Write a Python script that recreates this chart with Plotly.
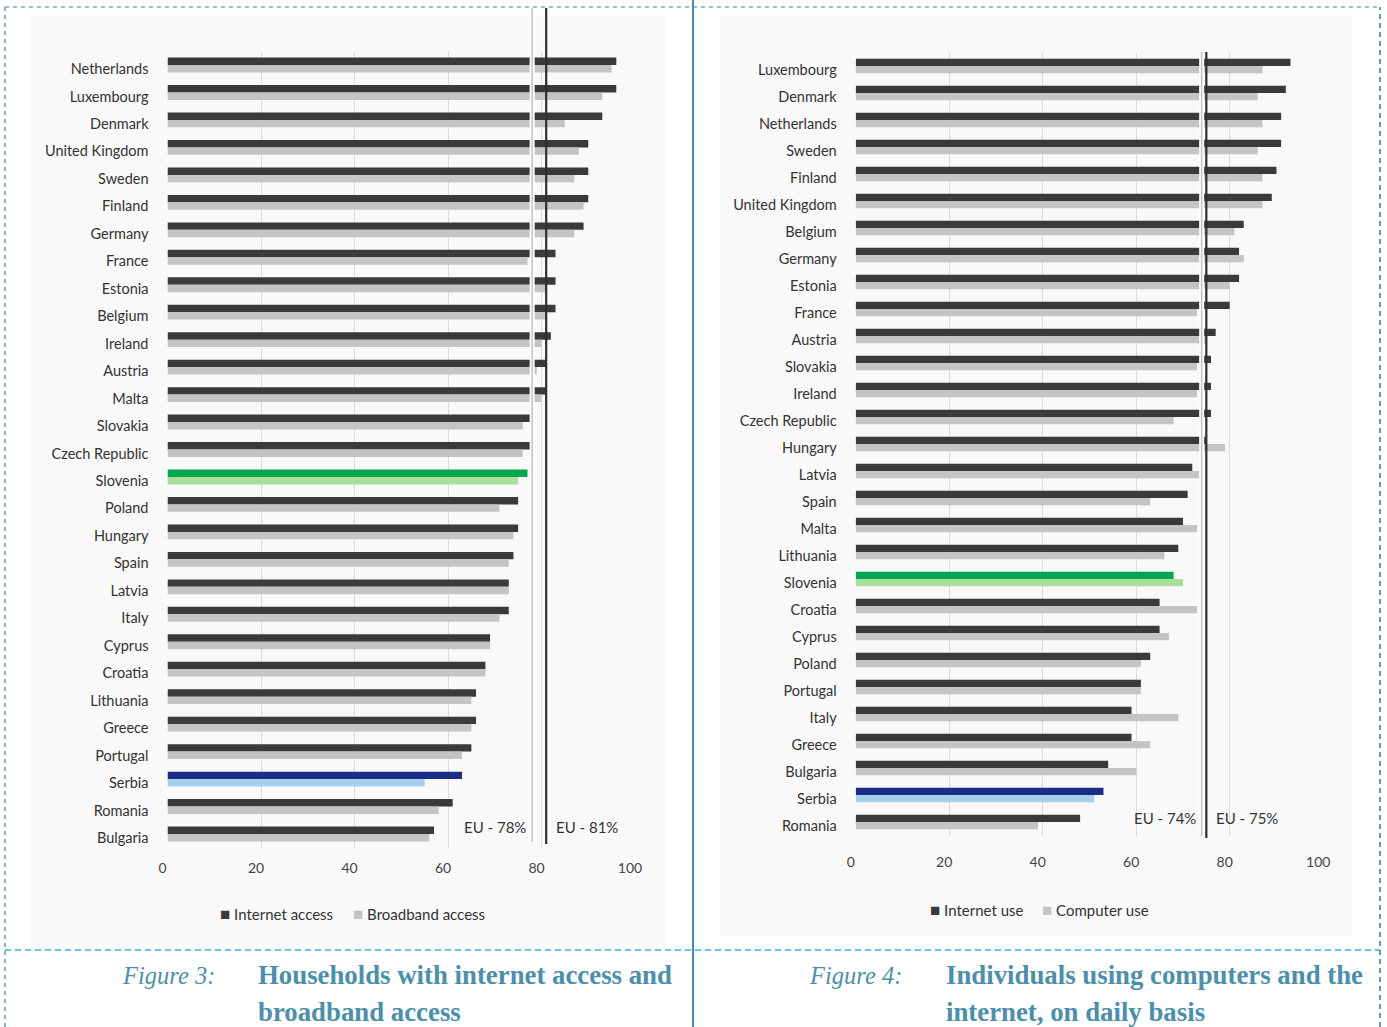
import plotly.graph_objects as go

W, H = 1387, 1027

# Figure 3: households with internet / broadband access (%)
countries_hh = ["Netherlands", "Luxembourg", "Denmark", "United Kingdom", "Sweden", "Finland",
                "Germany", "France", "Estonia", "Belgium", "Ireland", "Austria", "Malta",
                "Slovakia", "Czech Republic", "Slovenia", "Poland", "Hungary", "Spain", "Latvia",
                "Italy", "Cyprus", "Croatia", "Lithuania", "Greece", "Portugal", "Serbia",
                "Romania", "Bulgaria"]
internet_access = [96, 96, 93, 90, 90, 90, 89, 83, 83, 83, 82, 81, 81, 78, 78, 77, 75, 75, 74,
                   73, 73, 69, 68, 66, 66, 65, 63, 61, 57]
broadband_access = [95, 93, 85, 88, 87, 89, 87, 77, 81, 81, 80, 79, 80, 76, 76, 75, 71, 74, 73,
                    73, 71, 69, 68, 65, 65, 63, 55, 58, 56]
eu_hh_broadband = 78
eu_hh_internet = 81

# Figure 4: individuals using computers / internet daily (%)
countries_ind = ["Luxembourg", "Denmark", "Netherlands", "Sweden", "Finland", "United Kingdom",
                 "Belgium", "Germany", "Estonia", "France", "Austria", "Slovakia", "Ireland",
                 "Czech Republic", "Hungary", "Latvia", "Spain", "Malta", "Lithuania", "Slovenia",
                 "Croatia", "Cyprus", "Poland", "Portugal", "Italy", "Greece", "Bulgaria",
                 "Serbia", "Romania"]
internet_use = [93, 92, 91, 91, 90, 89, 83, 82, 82, 80, 77, 76, 76, 76, 75, 72, 71, 70, 69, 68,
                65, 65, 63, 61, 59, 59, 54, 53, 48]
computer_use = [87, 86, 87, 86, 87, 87, 81, 83, 80, 73, 75, 73, 73, 68, 79, 74, 63, 73, 66, 70,
                73, 67, 61, 61, 69, 63, 60, 51, 39]
eu_ind_computer = 74
eu_ind_internet = 75

x_ticks = [0, 20, 40, 60, 80, 100]

DARK, LIGHT = "#3a3a3a", "#c5c4c4"
HIGHLIGHT = {"Slovenia": ("#00a651", "#a6e09a"), "Serbia": ("#1b2d86", "#a7d0ef")}
CAPTION = "#4a8fab"
LABEL_FONT = "Lato, 'Open Sans', sans-serif"


def colours(cats, idx):
    base = DARK if idx == 0 else LIGHT
    return [HIGHLIGHT[c][idx] if c in HIGHLIGHT else base for c in cats]


def px_x(p):
    return p / W


def px_y(p):
    return 1 - p / H


fig = go.Figure()

fig.add_trace(go.Bar(y=countries_hh, x=internet_access, orientation="h", name="Internet access",
                     marker=dict(color=colours(countries_hh, 0), line_width=0),
                     xaxis="x", yaxis="y"))
fig.add_trace(go.Bar(y=countries_hh, x=broadband_access, orientation="h", name="Broadband access",
                     marker=dict(color=colours(countries_hh, 1), line_width=0),
                     xaxis="x", yaxis="y"))
fig.add_trace(go.Bar(y=countries_ind, x=internet_use, orientation="h", name="Internet use",
                     marker=dict(color=colours(countries_ind, 0), line_width=0),
                     xaxis="x2", yaxis="y2"))
fig.add_trace(go.Bar(y=countries_ind, x=computer_use, orientation="h", name="Computer use",
                     marker=dict(color=colours(countries_ind, 1), line_width=0),
                     xaxis="x2", yaxis="y2"))

xaxis_common = dict(range=[0, 100], tickvals=x_ticks, showgrid=True, gridcolor="#e2dada",
                    gridwidth=1, zeroline=False, showline=False, ticks="", automargin=False,
                    tickfont=dict(family=LABEL_FONT, size=14, color="#444444"),
                    ticklabelshift=-5, fixedrange=True)
yaxis_common = dict(type="category", autorange="reversed", showgrid=False, zeroline=False,
                    showline=False, ticks="", ticklabelstandoff=18, automargin=False,
                    tickfont=dict(family=LABEL_FONT, size=14.5, color="#333333"),
                    ticklabelshift=-4, fixedrange=True)

fig.update_layout(
    width=W, height=H, autosize=False,
    margin=dict(l=0, r=0, t=0, b=0, pad=0, autoexpand=False),
    paper_bgcolor="white", plot_bgcolor="rgba(0,0,0,0)",
    barmode="group", bargap=0.46, bargroupgap=0.0,
    showlegend=False,
    xaxis=dict(domain=[px_x(167.5), px_x(635)], anchor="y", ticklabelstandoff=10, **xaxis_common),
    yaxis=dict(domain=[px_y(847.7), px_y(51.3)], anchor="x", **yaxis_common),
    xaxis2=dict(domain=[px_x(855.7), px_x(1323.2)], anchor="y2", ticklabelstandoff=16, **xaxis_common),
    yaxis2=dict(domain=[px_y(835.5), px_y(52.5)], anchor="x2", **yaxis_common),
)

shapes = []
# chart panels
shapes.append(dict(type="rect", xref="paper", yref="paper", x0=px_x(30), x1=px_x(665),
                   y0=px_y(945), y1=px_y(15), fillcolor="#f9f9f9", line_width=0, layer="below"))
shapes.append(dict(type="rect", xref="paper", yref="paper", x0=px_x(720), x1=px_x(1352),
                   y0=px_y(935), y1=px_y(15), fillcolor="#f9f9f9", line_width=0, layer="below"))


# EU average reference lines
def eu_lines(xref, light_val, dark_val, top, bottom):
    out = []
    out.append(dict(type="line", xref=xref, yref="paper", x0=light_val, x1=light_val,
                    y0=px_y(bottom), y1=px_y(top), line=dict(color="white", width=5), layer="above"))
    out.append(dict(type="line", xref=xref, yref="paper", x0=light_val, x1=light_val,
                    y0=px_y(bottom), y1=px_y(top), line=dict(color="#c9c5c5", width=1.6), layer="above"))
    out.append(dict(type="line", xref=xref, yref="paper", x0=dark_val, x1=dark_val,
                    y0=px_y(bottom + 2), y1=px_y(top), line=dict(color="#2f2f2f", width=2.2), layer="above"))
    return out


shapes += eu_lines("x", eu_hh_broadband, eu_hh_internet, 8, 842)
shapes += eu_lines("x2", eu_ind_computer, eu_ind_internet, 52, 836)

# page frame
dash_dark, dash_light = "#2f7fa6", "#35b3e3"
shapes.append(dict(type="line", xref="paper", yref="paper", x0=px_x(5), x1=px_x(1380),
                   y0=px_y(7), y1=px_y(7), line=dict(color=dash_dark, width=1.2, dash="4px,4px")))
shapes.append(dict(type="line", xref="paper", yref="paper", x0=px_x(5), x1=px_x(1380),
                   y0=px_y(950), y1=px_y(950), line=dict(color=dash_light, width=1.5, dash="6px,4px")))
shapes.append(dict(type="line", xref="paper", yref="paper", x0=px_x(5), x1=px_x(5),
                   y0=px_y(1027), y1=px_y(7), line=dict(color=dash_dark, width=1.2, dash="4px,4px")))
shapes.append(dict(type="line", xref="paper", yref="paper", x0=px_x(1380), x1=px_x(1380),
                   y0=px_y(1027), y1=px_y(7), line=dict(color=dash_dark, width=1.5, dash="5px,4px")))
shapes.append(dict(type="line", xref="paper", yref="paper", x0=px_x(693), x1=px_x(693),
                   y0=0, y1=1, line=dict(color="#3f8eae", width=2)))
fig.update_layout(shapes=shapes)

annotations = []
eu_font = dict(family=LABEL_FONT, size=15, color="#333333")
annotations.append(dict(xref="x", yref="paper", x=eu_hh_broadband, y=px_y(827), xshift=-4,
                        text=f"EU - {eu_hh_broadband}%", showarrow=False, xanchor="right",
                        yanchor="middle", font=eu_font))
annotations.append(dict(xref="x", yref="paper", x=eu_hh_internet, y=px_y(827), xshift=8,
                        text=f"EU - {eu_hh_internet}%", showarrow=False, xanchor="left",
                        yanchor="middle", font=eu_font))
annotations.append(dict(xref="x2", yref="paper", x=eu_ind_computer, y=px_y(818), xshift=-4,
                        text=f"EU - {eu_ind_computer}%", showarrow=False, xanchor="right",
                        yanchor="middle", font=eu_font))
annotations.append(dict(xref="x2", yref="paper", x=eu_ind_internet, y=px_y(818), xshift=8,
                        text=f"EU - {eu_ind_internet}%", showarrow=False, xanchor="left",
                        yanchor="middle", font=eu_font))

# legends: square key followed by the series name
legend_font = dict(family=LABEL_FONT, size=15, color="#333333")
legend_items = [
    (218, 913, DARK, "Internet access"),
    (351, 913, LIGHT, "Broadband access"),
    (928, 909, DARK, "Internet use"),
    (1040, 909, LIGHT, "Computer use"),
]
for lx, ly, col, name in legend_items:
    annotations.append(dict(xref="paper", yref="paper", x=px_x(lx), y=px_y(ly),
                            text=f"<span style='color:{col};font-size:17px'>■</span> {name}",
                            showarrow=False, xanchor="left", yanchor="middle", font=legend_font))

serif = "'Liberation Serif', 'DejaVu Serif', serif"
captions = [
    (120, "Figure 3:", 256, ["Households with internet access and", "broadband access"]),
    (807, "Figure 4:", 944, ["Individuals using computers and the", "internet, on daily basis"]),
]
for fx, flabel, tx, lines in captions:
    annotations.append(dict(xref="paper", yref="paper", x=px_x(fx), y=px_y(975), text=f"<i>{flabel}</i>",
                            showarrow=False, xanchor="left", yanchor="middle",
                            font=dict(family=serif, size=24.5, color=CAPTION)))
    for i, line in enumerate(lines):
        annotations.append(dict(xref="paper", yref="paper", x=px_x(tx), y=px_y(975 + 37 * i),
                                text=f"<b>{line}</b>", showarrow=False, xanchor="left",
                                yanchor="middle", font=dict(family=serif, size=26.8, color=CAPTION)))
fig.update_layout(annotations=annotations)

fig.write_html(
    "out.html",
    config={"responsive": False, "displayModeBar": False},
    post_script="document.body.style.margin='0';document.body.style.overflow='hidden';",
)
